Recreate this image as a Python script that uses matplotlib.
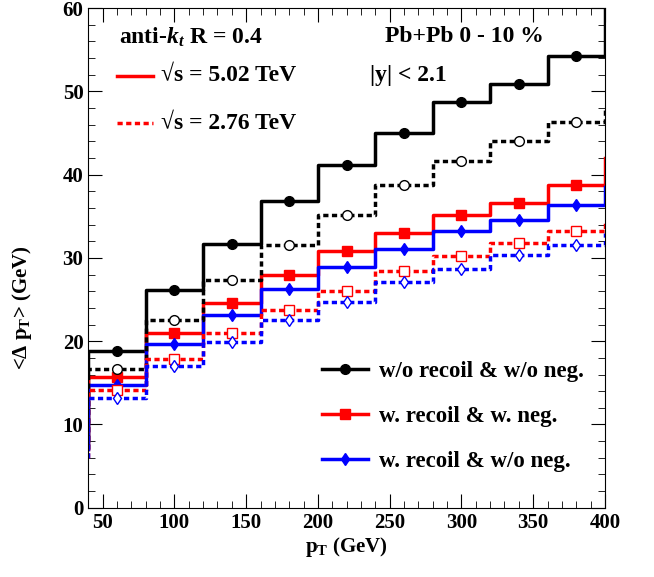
import numpy as np
import matplotlib
matplotlib.use("Agg")
import matplotlib.pyplot as plt
from matplotlib.lines import Line2D

plt.rcParams['font.family'] = ['Liberation Serif', 'DejaVu Serif']
plt.rcParams['font.weight'] = 'bold'
plt.rcParams['mathtext.fontset'] = 'custom'
plt.rcParams['mathtext.bf'] = 'Liberation Serif:bold'
plt.rcParams['mathtext.rm'] = 'Liberation Serif:bold'
plt.rcParams['mathtext.it'] = 'Liberation Serif:bold:italic'

edges = np.arange(40, 401, 40)
centers = edges[:-1] + 20

# 5.02 TeV
blk_502 = [18.8, 26.2, 31.7, 36.8, 41.2, 45.0, 48.7, 50.9, 54.2]
red_502 = [15.7, 21.0, 24.6, 27.9, 30.8, 33.0, 35.2, 36.6, 38.7]
blu_502 = [14.8, 19.7, 23.2, 26.3, 28.9, 31.1, 33.2, 34.5, 36.4]
# 2.76 TeV
blk_276 = [16.7, 22.6, 27.3, 31.5, 35.1, 38.8, 41.6, 44.0, 46.3]
red_276 = [14.2, 17.9, 21.0, 23.7, 26.0, 28.4, 30.2, 31.8, 33.2]
blu_276 = [13.2, 17.0, 19.9, 22.6, 24.7, 27.1, 28.7, 30.3, 31.6]
# under/overflow edge values
under = {'k5': 8, 'r5': 7, 'b5': 7, 'k2': 7, 'r2': 6, 'b2': 6}
over = {'k5': 60, 'r5': 42, 'b5': 38.5, 'k2': 48, 'r2': 34.5, 'b2': 33}

DOT = (0, (1.5, 1.0))

fig = plt.figure(figsize=(6.54, 5.77), dpi=100)
ax = fig.add_axes([0.135, 0.12, 0.79, 0.866])

def draw(vals, lo, hi, color, ls, marker, mfc, ms):
    x = np.concatenate([[edges[0]], np.repeat(edges, 2)[1:-1], [edges[-1]]])
    y = np.concatenate([[lo], np.repeat(vals, 2), [hi]])
    ax.plot(x, y, color=color, ls=ls, lw=2.5)
    ax.plot(centers, vals, ls='none', marker=marker, color=color,
            mfc=mfc, ms=ms, mew=1)

draw(blk_502, under['k5'], over['k5'], 'black', '-', 'o', 'black', 7)
draw(red_502, under['r5'], over['r5'], 'red', '-', 's', 'red', 7)
draw(blu_502, under['b5'], over['b5'], 'blue', '-', 'd', 'blue', 6)
draw(blk_276, under['k2'], over['k2'], 'black', DOT, 'o', 'white', 7)
draw(red_276, under['r2'], over['r2'], 'red', DOT, 's', 'white', 7)
draw(blu_276, under['b2'], over['b2'], 'blue', DOT, 'd', 'white', 6)

ax.set_xlim(40, 400)
ax.set_ylim(0, 60)
ax.set_xticks([50, 100, 150, 200, 250, 300, 350, 400])
ax.set_xticks(np.arange(40, 401, 10), minor=True)
ax.set_yticks(np.arange(0, 61, 10))
ax.set_yticks(np.arange(0, 61, 2), minor=True)
ax.tick_params(which='both', direction='in', top=True, right=True, labelsize=15)
ax.tick_params(which='major', length=10)
ax.tick_params(which='minor', length=5)
ax.set_xlabel(r'p$_\mathbf{T}$ (GeV)', fontsize=15, fontweight='bold')
ax.xaxis.set_label_coords(0.5, -0.055)
ax.set_ylabel(r'<$\Delta$ p$_\mathbf{T}$> (GeV)', fontsize=15, fontweight='bold')
ax.yaxis.set_label_coords(-0.105, 0.40)

ax.text(0.06, 0.965, r'anti-$\mathit{k}_{t}$ R = 0.4', transform=ax.transAxes, fontsize=17, va='top')
ax.text(0.575, 0.965, 'Pb+Pb 0 - 10 %', transform=ax.transAxes, fontsize=17, va='top')
ax.text(0.545, 0.865, '|y| < 2.1', transform=ax.transAxes, fontsize=17, va='center')
ax.plot([0.055, 0.125], [0.865, 0.865], color='red', lw=2.5, transform=ax.transAxes)
ax.plot([0.055, 0.125], [0.77, 0.77], color='red', lw=2.5, ls=DOT, transform=ax.transAxes)
ax.text(0.14, 0.865, '√s = 5.02 TeV', transform=ax.transAxes, fontsize=17, va='center')
ax.text(0.14, 0.77, '√s = 2.76 TeV', transform=ax.transAxes, fontsize=17, va='center')

handles = [Line2D([], [], color='black', lw=2.5, marker='o', ms=7),
           Line2D([], [], color='red', lw=2.5, marker='s', ms=7),
           Line2D([], [], color='blue', lw=2.5, marker='d', ms=6)]
labels = ['w/o recoil & w/o neg.', 'w. recoil & w. neg.', 'w. recoil & w/o neg.']
ax.legend(handles, labels, loc='lower right', bbox_to_anchor=(1.0, 0.03), frameon=False,
          fontsize=16.5, labelspacing=1.05, handlelength=2.0, handletextpad=0.5)

fig.savefig('out.png')
